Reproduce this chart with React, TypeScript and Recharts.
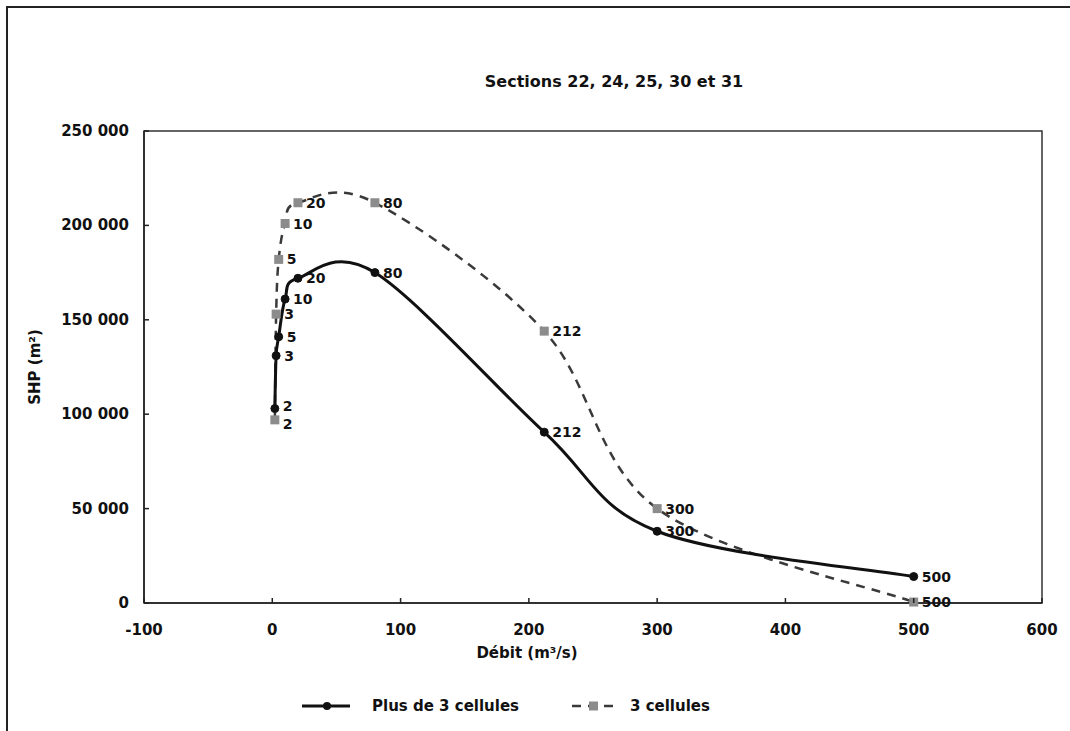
import {LabelList, Line, LineChart, ReferenceArea, XAxis, YAxis} from 'recharts'

const debits = [2, 3, 5, 10, 20, 80, 212, 300, 500]
const shpPlus3 = [103000, 131000, 141000, 161000, 172000, 175000, 90500, 38000, 14000]
const shp3 = [97000, 153000, 182000, 201000, 212000, 212000, 144000, 50000, 500]
const xTicks = [-100, 0, 100, 200, 300, 400, 500, 600]
const yTicks = [0, 50000, 100000, 150000, 200000, 250000]

const font = '"DejaVu Sans", sans-serif'

const plusData = debits.map((q, i) => ({q, shp: shpPlus3[i]}))
const troisData = debits.map((q, i) => ({q, shp: shp3[i]}))

const fmt = (v: number) => v.toLocaleString('fr-FR').replace(/\s/g, ' ')

// lissage façon Excel : bezier avec tangentes (p[i+1]-p[i-1])/6
function smooth(context: any) {
  let pts: number[][] = []
  return {
    areaStart() {},
    areaEnd() {},
    lineStart() {
      pts = []
    },
    point(x: number, y: number) {
      pts.push([+x, +y])
    },
    lineEnd() {
      const n = pts.length
      if (!n) return
      context.moveTo(pts[0][0], pts[0][1])
      for (let i = 0; i < n - 1; i++) {
        const p0 = pts[Math.max(i - 1, 0)]
        const p1 = pts[i]
        const p2 = pts[i + 1]
        const p3 = pts[Math.min(i + 2, n - 1)]
        context.bezierCurveTo(
          p1[0] + (p2[0] - p0[0]) / 6,
          p1[1] + (p2[1] - p0[1]) / 6,
          p2[0] - (p3[0] - p1[0]) / 6,
          p2[1] - (p3[1] - p1[1]) / 6,
          p2[0],
          p2[1]
        )
      }
    },
  }
}

function XTick({x, y, payload}: any) {
  return (
    <g>
      <line x1={x} y1={y} x2={x} y2={y - 5} stroke="#222" strokeWidth={1.5} />
      <text x={x} y={y + 32} textAnchor="middle" fontFamily={font} fontWeight="bold" fontSize={15} fill="#111">
        {payload.value}
      </text>
    </g>
  )
}

function YTick({x, y, payload}: any) {
  return (
    <g>
      <line x1={x} y1={y} x2={x + 5} y2={y} stroke="#222" strokeWidth={1.5} />
      <text x={x - 15} y={y + 5} textAnchor="end" fontFamily={font} fontWeight="bold" fontSize={15} fill="#111">
        {fmt(payload.value)}
      </text>
    </g>
  )
}

function SquareDot({cx, cy, index}: any) {
  return <rect key={`sq-${index}`} x={cx - 4.5} y={cy - 4.5} width={9} height={9} fill="#8c8c8c" />
}

// étiquette à droite du point ; le premier point (Q=2) est décalé pour ne pas chevaucher l'autre série
const pointLabel = (firstShift: number) => (props: any) => {
  const {x, y, value, index} = props
  const dy = index === 0 ? firstShift : 0
  return (
    <text key={`lb-${index}`} x={x + 8} y={y + 5 + dy} fontFamily={font} fontWeight="bold" fontSize={14} fill="#111">
      {value}
    </text>
  )
}

export default function App() {
  return (
    <div style={{position: 'absolute', left: 0, top: 0, width: 1070, height: 731, background: '#fff', fontFamily: font}}>
      <div style={{position: 'absolute', left: 6, top: 6, width: 1064, height: 725, borderLeft: '2px solid #222', borderTop: '2px solid #222'}} />
      <div style={{position: 'absolute', left: 414, width: 400, top: 72, textAlign: 'center', fontWeight: 'bold', fontSize: 16, color: '#111'}}>
        Sections 22, 24, 25, 30 et 31
      </div>
      <LineChart width={1070} height={731} data={plusData} margin={{top: 131, right: 28, bottom: 98, left: 64}}>
        <ReferenceArea x1={-100} x2={600} y1={0} y2={250000} fill="none" stroke="#333" strokeWidth={1.5} />
        <XAxis
          type="number"
          dataKey="q"
          domain={[-100, 600]}
          ticks={xTicks}
          allowDataOverflow
          height={30}
          tickSize={0}
          tickMargin={0}
          tickLine={false}
          axisLine={{stroke: '#222', strokeWidth: 1.5}}
          tick={<XTick />}
        />
        <YAxis
          type="number"
          domain={[0, 250000]}
          ticks={yTicks}
          width={80}
          tickSize={0}
          tickMargin={0}
          tickLine={false}
          axisLine={{stroke: '#222', strokeWidth: 1.5}}
          tick={<YTick />}
        />
        <Line
          data={troisData}
          dataKey="shp"
          type={smooth as any}
          stroke="#3a3a3a"
          strokeWidth={2.5}
          strokeDasharray="9 7"
          dot={<SquareDot />}
          activeDot={false}
          isAnimationActive={false}
        >
          <LabelList dataKey="q" content={pointLabel(4)} />
        </Line>
        <Line
          data={plusData}
          dataKey="shp"
          type={smooth as any}
          stroke="#111"
          strokeWidth={3}
          dot={{r: 4, fill: '#111', stroke: '#111', strokeWidth: 1}}
          activeDot={false}
          isAnimationActive={false}
        >
          <LabelList dataKey="q" content={pointLabel(-3)} />
        </Line>
      </LineChart>
      <div style={{position: 'absolute', left: 427, width: 200, top: 644, textAlign: 'center', fontWeight: 'bold', fontSize: 15, color: '#111'}}>
        Débit (m³/s)
      </div>
      <div
        style={{
          position: 'absolute',
          left: 35,
          top: 367,
          transform: 'translate(-50%, -50%) rotate(-90deg)',
          whiteSpace: 'nowrap',
          fontWeight: 'bold',
          fontSize: 15,
          color: '#111',
        }}
      >
        SHP (m²)
      </div>
      <svg style={{position: 'absolute', left: 0, top: 690}} width={1070} height={32}>
        <line x1={302} y1={16} x2={350} y2={16} stroke="#111" strokeWidth={3} />
        <circle cx={327} cy={16} r={4} fill="#111" />
        <text x={372} y={21} fontFamily={font} fontWeight="bold" fontSize={15} fill="#111">
          Plus de 3 cellules
        </text>
        <line x1={572} y1={16} x2={617} y2={16} stroke="#3a3a3a" strokeWidth={2.5} strokeDasharray="9 7" />
        <rect x={589} y={11.5} width={9} height={9} fill="#8c8c8c" />
        <text x={630} y={21} fontFamily={font} fontWeight="bold" fontSize={15} fill="#111">
          3 cellules
        </text>
      </svg>
    </div>
  )
}
